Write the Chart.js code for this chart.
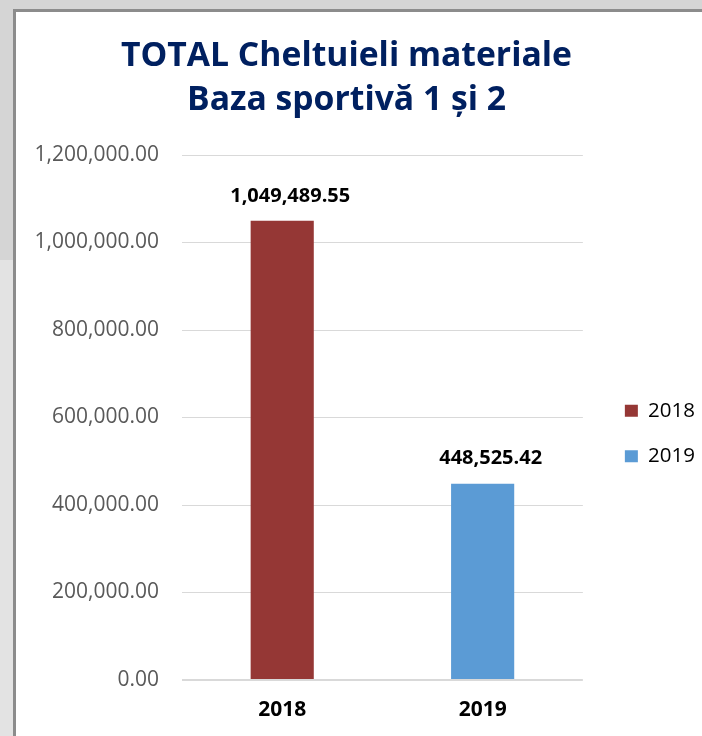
<!DOCTYPE html>
<html>
<head>
<meta charset="utf-8">
<script src="https://cdn.jsdelivr.net/npm/chart.js@4/dist/chart.umd.min.js"></script>
<style>
    html, body { margin: 0; padding: 0; }
    body {
        width: 702px; height: 736px; overflow: hidden; position: relative;
        background: linear-gradient(to bottom, #d5d5d5 0, #d5d5d5 260px, #e3e3e3 260px);
    }
    .frame {
        position: absolute; left: 13px; top: 9px; width: 700px; height: 740px;
        background: #ffffff;
        border-top: 3px solid #8c8c8c; border-left: 3px solid #8c8c8c;
    }
    .wrap { position: absolute; left: 5px; top: 12px; width: 697px; height: 724px; }
</style>
</head>
<body>
<div class="frame"></div>
<div class="wrap"><canvas id="chart"></canvas></div>
<script>
const categories = ['2018', '2019'];
const totals = [1049489.55, 448525.42];
const barColors = ['#953735', '#5b9bd5'];
const yTicks = [0, 200000, 400000, 600000, 800000, 1000000, 1200000];

const FONT = '"Open Sans", "Noto Sans", sans-serif';
const fmt = v => v.toLocaleString('en-US', { minimumFractionDigits: 2, maximumFractionDigits: 2 });

// Value labels above each bar (Excel puts them a little right of centre)
const barLabels = {
    id: 'barLabels',
    afterDatasetsDraw(chart) {
        const ctx = chart.ctx;
        const meta = chart.getDatasetMeta(0);
        ctx.save();
        ctx.font = 'bold 20px ' + FONT;
        ctx.fillStyle = '#000000';
        ctx.textAlign = 'center';
        ctx.textBaseline = 'middle';
        meta.data.forEach((bar, i) => {
            ctx.fillText(fmt(totals[i]), bar.x + 8, bar.y - 25);
        });
        ctx.restore();
    }
};

// Nudge the legend away from the plot, like the Excel layout
const legendNudge = {
    id: 'legendNudge',
    afterLayout(chart) {
        const l = chart.legend;
        if (!l) return;
        l.left += 17; l.right += 17;
        l.top += 16; l.bottom += 16;
    }
};

new Chart(document.getElementById('chart'), {
    type: 'bar',
    data: {
        labels: categories,
        datasets: [{
            data: totals,
            backgroundColor: barColors,
            borderWidth: 0,
            barPercentage: 0.315,
            categoryPercentage: 1
        }]
    },
    options: {
        responsive: true,
        maintainAspectRatio: false,
        animation: false,
        layout: { padding: { left: 0, right: 14, top: 0, bottom: 0 } },
        plugins: {
            title: {
                display: true,
                text: ['TOTAL Cheltuieli materiale', 'Baza sportivă 1 și 2'],
                color: '#002060',
                font: { family: FONT, size: 33.7, weight: 'bold', lineHeight: 44 / 33.7 },
                padding: { top: 22, bottom: 33 }
            },
            legend: {
                position: 'right',
                fullSize: false,
                labels: {
                    color: '#595959',
                    font: { family: FONT, size: 20.5 },
                    boxWidth: 13,
                    boxHeight: 12,
                    padding: 25,
                    generateLabels: () => categories.map((c, i) => ({
                        text: c, fillStyle: barColors[i], strokeStyle: barColors[i], lineWidth: 0, index: i
                    }))
                }
            },
            tooltip: { enabled: false }
        },
        scales: {
            x: {
                afterFit: scale => { scale.height = 56; },
                grid: { display: false, drawTicks: false, tickLength: 0 },
                border: { display: false },
                ticks: { color: '#000000', font: { family: FONT, size: 21, weight: 'bold' }, padding: 17 }
            },
            y: {
                min: 0, max: 1200000,
                afterBuildTicks: scale => { scale.ticks = yTicks.map(v => ({ value: v })); },
                afterFit: scale => { scale.width = 177; },
                grid: { color: '#d9d9d9', lineWidth: c => (c.tick && c.tick.value === 0 ? 2 : 1), drawTicks: false },
                border: { display: false },
                ticks: { color: '#595959', font: { family: FONT, size: 21 }, padding: 23, callback: v => fmt(v) }
            }
        }
    },
    plugins: [barLabels, legendNudge]
});
</script>
</body>
</html>
